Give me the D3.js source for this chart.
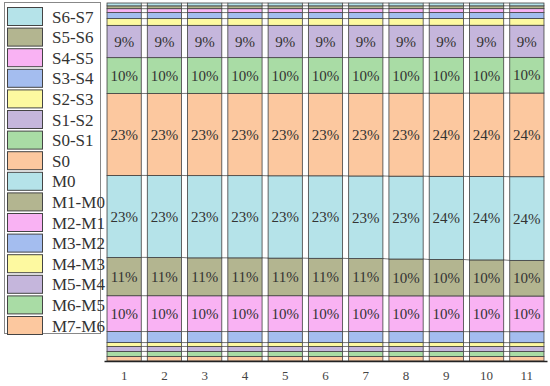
<!DOCTYPE html>
<html>
<head>
<meta charset="utf-8">
<script src="https://cdn.jsdelivr.net/npm/d3@7"></script>
<style>
  body { margin: 0; background: #fff; }
  svg { display: block; }
</style>
</head>
<body>
<svg width="550" height="386"></svg>
<script>
"use strict"

const serif = "'Liberation Serif', 'DejaVu Serif', 'Times New Roman', serif"

// categories along the x axis
const categories = ["1", "2", "3", "4", "5", "6", "7", "8", "9", "10", "11"]

// stack order, bottom to top
const keys = ["M7-M6", "M6-M5", "M5-M4", "M4-M3", "M3-M2", "M2-M1", "M1-M0", "M0",
              "S0", "S0-S1", "S1-S2", "S2-S3", "S3-S4", "S4-S5", "S5-S6", "S6-S7"]

// percentage of each band per category
const m7m6 = [1.3, 1.3, 1.3, 1.3, 1.3, 1.3, 1.3, 1.3, 1.3, 1.3, 1.3]
const m6m5 = [1.4, 1.4, 1.4, 1.4, 1.4, 1.4, 1.4, 1.4, 1.4, 1.4, 1.4]
const m5m4 = [1.4, 1.4, 1.4, 1.4, 1.4, 1.4, 1.4, 1.4, 1.4, 1.4, 1.4]
const m4m3 = [1.1, 1.1, 1.1, 1.1, 1.1, 1.1, 1.1, 1.1, 1.1, 1.1, 1.1]
const m3m2 = [3.1, 3.1, 3.1, 3.1, 3.1, 3.1, 3.1, 3.1, 3.1, 3.1, 3.1]
const m2m1 = [10.1, 10.1, 10.1, 10.1, 10.1, 10.1, 10.1, 10.1, 10.1, 10.1, 10.1]
const m1m0 = [10.8, 10.8, 10.7, 10.7, 10.6, 10.6, 10.5, 10.4, 10.3, 10.2, 10.1]
const m0   = [23.1, 23.1, 23.2, 23.2, 23.2, 23.3, 23.3, 23.4, 23.5, 23.6, 23.7]
const s0   = [23.1, 23.1, 23.2, 23.2, 23.2, 23.3, 23.3, 23.4, 23.5, 23.6, 23.7]
const s0s1 = [10.1, 10.1, 10.1, 10.1, 10.1, 10.1, 10.1, 10.1, 10.1, 10.1, 10.1]
const s1s2 = [9.1, 9.1, 9.1, 9.1, 9.1, 9.1, 9.1, 9.1, 9.1, 9.1, 9.1]
const s2s3 = [1.9, 1.9, 1.9, 1.9, 1.9, 1.9, 1.9, 1.9, 1.9, 1.9, 1.9]
const s3s4 = [1.7, 1.7, 1.7, 1.7, 1.7, 1.7, 1.7, 1.7, 1.7, 1.7, 1.7]
const s4s5 = [1.1, 1.1, 1.1, 1.1, 1.1, 1.1, 1.1, 1.1, 1.1, 1.1, 1.1]
const s5s6 = [0.8, 0.8, 0.8, 0.8, 0.8, 0.8, 0.8, 0.8, 0.8, 0.8, 0.8]
const s6s7 = [0.8, 0.8, 0.8, 0.8, 0.8, 0.8, 0.8, 0.8, 0.8, 0.8, 0.8]

const seriesValues = [m7m6, m6m5, m5m4, m4m3, m3m2, m2m1, m1m0, m0,
                      s0, s0s1, s1s2, s2s3, s3s4, s4s5, s5s6, s6s7]

const palette = ["#fcc89f", "#a9dca5", "#c5b6dc", "#fdf9a0", "#a4bdef", "#f9b2f3", "#b3b590", "#b5e3e9",
                 "#fcc89f", "#a9dca5", "#c5b6dc", "#fdf9a0", "#a4bdef", "#f9b2f3", "#b3b590", "#b5e3e9"]

const table = categories.map((c, i) => {
  let row = {cat: c}
  keys.forEach((k, j) => row[k] = seriesValues[j][i])
  return row
})

let svg = d3.select("svg"),
    margin = {left: 104, right: 3, top: 3, bottom: 25},
    width = +svg.attr("width"),
    height = +svg.attr("height")

let x = d3.scaleBand()
  .domain(categories)
  .range([margin.left, width - margin.right])
  .paddingInner(0.15)
  .paddingOuter(0.075)

let y = d3.scaleLinear()
  .domain([0, 1])
  .range([height - margin.bottom, margin.top])

let color = d3.scaleOrdinal().domain(keys).range(palette)

let stacked = d3.stack().keys(keys).offset(d3.stackOffsetExpand)(table)

// series lines between neighbouring bars
let boundaries = [stacked[0].map(d => d[0])].concat(stacked.map(s => s.map(d => d[1])))
let lines = svg.append("g").attr("stroke", "#555").attr("stroke-width", 0.8)
boundaries.forEach(b => {
  for (let i = 0; i < categories.length - 1; i++) {
    lines.append("line")
      .attr("x1", x(categories[i]) + x.bandwidth())
      .attr("x2", x(categories[i + 1]))
      .attr("y1", y(b[i]))
      .attr("y2", y(b[i + 1]))
  }
})

let layer = svg.append("g").selectAll("g")
  .data(stacked)
  .enter().append("g")
    .attr("fill", d => color(d.key))

layer.selectAll("rect")
  .data(d => d)
  .enter().append("rect")
    .attr("x", d => x(d.data.cat))
    .attr("y", d => y(d[1]))
    .attr("width", x.bandwidth())
    .attr("height", d => y(d[0]) - y(d[1]))
    .attr("stroke", "#404040")
    .attr("stroke-width", 0.8)

// percentage labels on the larger bands
layer.each(function(s) {
  d3.select(this).selectAll("text")
    .data(s.filter(d => d.data[s.key] >= 5))
    .enter().append("text")
      .attr("x", d => x(d.data.cat) + x.bandwidth() / 2)
      .attr("y", d => (y(d[0]) + y(d[1])) / 2)
      .attr("dy", "0.35em")
      .attr("text-anchor", "middle")
      .attr("fill", "#333")
      .attr("font-family", serif)
      .attr("font-size", 15)
      .text(d => Math.round(d.data[s.key]) + "%")
})

// x axis
let xAxis = svg.append("g")
  .attr("transform", "translate(0," + (height - margin.bottom) + ")")
  .call(d3.axisBottom(x).tickSize(0).tickPadding(10))
xAxis.attr("font-family", serif).attr("font-size", 13)
xAxis.select(".domain").attr("stroke", "#222").attr("stroke-width", 1.5)
xAxis.selectAll("text").attr("fill", "#444")

// legend
let legend = svg.append("g")
legend.append("rect")
  .attr("x", 4.5).attr("y", 2.5)
  .attr("width", 96).attr("height", 331)
  .attr("fill", "#fff")
  .attr("stroke", "#888")

let item = legend.selectAll(".item")
  .data(keys.slice().reverse())
  .enter().append("g")
    .attr("class", "item")
    .attr("transform", (d, i) => "translate(0," + (7 + i * 20.6) + ")")

item.append("rect")
  .attr("x", 7.5).attr("y", 0.5)
  .attr("width", 35).attr("height", 18)
  .attr("fill", d => color(d))
  .attr("stroke", "#444")

item.append("text")
  .attr("x", 52)
  .attr("y", 15.5)
  .attr("font-family", serif)
  .attr("font-size", 17)
  .attr("fill", "#333")
  .text(d => d)
</script>
</body>
</html>
